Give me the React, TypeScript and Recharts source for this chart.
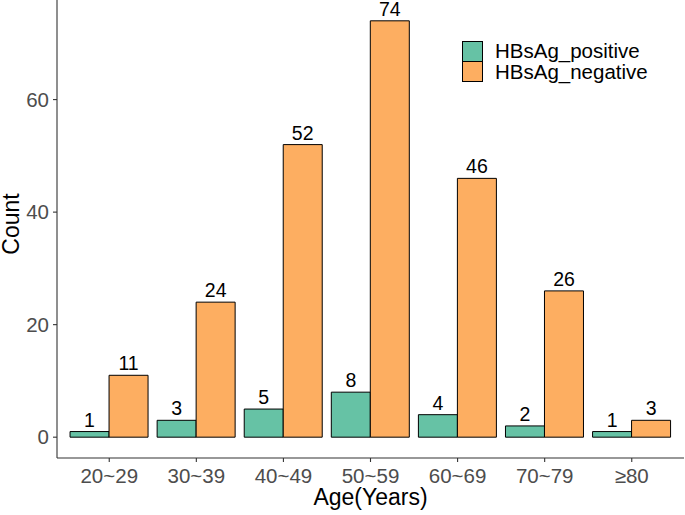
import React from 'react';
import { BarChart, Bar, XAxis, YAxis, LabelList } from 'recharts';

const ageGroups = ['20~29', '30~39', '40~49', '50~59', '60~69', '70~79', '≥80'];
const positiveCounts = [1, 3, 5, 8, 4, 2, 1];
const negativeCounts = [11, 24, 52, 74, 46, 26, 3];
const yTicks = [0, 20, 40, 60];

const seriesNames = ['HBsAg_positive', 'HBsAg_negative'];
const seriesColors = ['#66C2A5', '#FDAE61'];

const data = ageGroups.map((g, i) => ({
  group: g,
  positive: positiveCounts[i],
  negative: negativeCounts[i],
}));

const FONT = '"Liberation Sans", Arial, sans-serif';

// legend sits inside the plot, top right, like the ggplot original
const ChartLegend = () => (
  <div style={{ position: 'absolute', left: 462, top: 41, fontFamily: FONT }}>
    {seriesNames.map((name, i) => (
      <div key={name} style={{ display: 'flex', alignItems: 'center', height: 20.5 }}>
        <div
          style={{
            width: 19,
            height: 19,
            background: seriesColors[i],
            border: '1px solid #000',
            boxSizing: 'content-box',
            marginRight: 12,
          }}
        />
        <span style={{ fontSize: 20.5, color: '#000', lineHeight: '20px' }}>{name}</span>
      </div>
    ))}
  </div>
);

const renderYLabel = () => (
  <text
    x={19}
    y={224}
    transform="rotate(-90, 19, 224)"
    textAnchor="middle"
    fontSize={23}
    fill="#000"
    fontFamily={FONT}
  >
    Count
  </text>
);

export default function App() {
  return (
    <div style={{ position: 'absolute', left: 0, top: 0, width: 685, height: 515, background: '#fff' }}>
      <BarChart
        width={685}
        height={515}
        data={data}
        margin={{ top: 0, right: 1, left: 0, bottom: 0 }}
        barCategoryGap="5%"
        barGap={0}
        style={{ fontFamily: FONT, overflow: 'visible' }}
      >
        <XAxis
          dataKey="group"
          height={57}
          interval={0}
          padding={{ left: 8.7, right: 8.7 }}
          axisLine={{ stroke: '#333', strokeWidth: 1.1 }}
          tickLine={{ stroke: '#333', strokeWidth: 1.1 }}
          tickSize={4}
          tickMargin={6}
          tick={{ fontSize: 20.5, fill: '#4D4D4D', fontFamily: FONT }}
          label={{ value: 'Age(Years)', position: 'insideBottom', offset: 10, fontSize: 23, fill: '#000', fontFamily: FONT }}
        />
        <YAxis
          type="number"
          width={57}
          domain={[-3.7, 77.7]}
          ticks={yTicks}
          allowDataOverflow
          axisLine={{ stroke: '#333', strokeWidth: 1.1 }}
          tickLine={{ stroke: '#333', strokeWidth: 1.1 }}
          tickSize={4}
          tickMargin={4}
          tick={{ fontSize: 20.5, fill: '#4D4D4D', fontFamily: FONT }}
          label={renderYLabel}
        />
        <Bar dataKey="positive" name={seriesNames[0]} fill={seriesColors[0]} stroke="#000" strokeWidth={1} isAnimationActive={false}>
          <LabelList dataKey="positive" position="top" offset={5} fontSize={19.5} fill="#000" fontFamily={FONT} />
        </Bar>
        <Bar dataKey="negative" name={seriesNames[1]} fill={seriesColors[1]} stroke="#000" strokeWidth={1} isAnimationActive={false}>
          <LabelList dataKey="negative" position="top" offset={5} fontSize={19.5} fill="#000" fontFamily={FONT} />
        </Bar>
      </BarChart>
      <ChartLegend />
    </div>
  );
}
